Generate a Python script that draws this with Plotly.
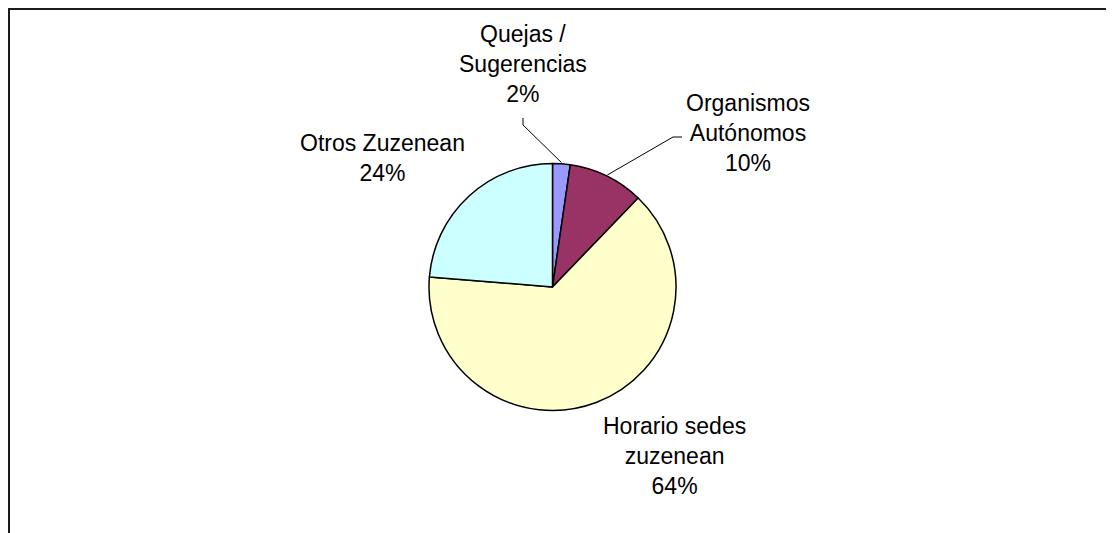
import math
import plotly.graph_objects as go

# ---- data ----
categories = ["Quejas / Sugerencias", "Organismos Autónomos", "Horario sedes zuzenean", "Otros Zuzenean"]
label_lines = ["Quejas /<br>Sugerencias", "Organismos<br>Autónomos", "Horario sedes<br>zuzenean", "Otros Zuzenean"]
values = [2.3, 9.9, 64.1, 23.7]
colors = ["#9999FF", "#993366", "#FFFFCC", "#CCFFFF"]

W, H = 1114, 533
OFF = 8  # page body margin offset
CX, CY, R = 552.5, 287.0, 123.5   # pie centre / radius in page pixels


def px(x):
    return (x - OFF) / W


def py(y):
    return 1 - (y - OFF) / H


fig = go.Figure()
fig.add_trace(go.Pie(
    labels=categories,
    values=values,
    sort=False,
    direction="clockwise",
    rotation=0,
    marker=dict(colors=colors, line=dict(color="#000000", width=1.5)),
    textinfo="none",
    hoverinfo="label+percent",
    showlegend=False,
    domain=dict(x=[px(CX - R), px(CX + R)], y=[py(CY + R), py(CY - R)]),
))

# label positions (page pixel centres of text blocks)
label_pos = [(523, 64), (748, 133), (674, 456), (382, 158)]
total = sum(values)
pct = [round(v / total * 100) for v in values]
for txt, p, (lx, ly) in zip(label_lines, pct, label_pos):
    fig.add_annotation(
        x=px(lx), y=py(ly), xref="paper", yref="paper",
        text=f"{txt}<br>{p}%", showarrow=False,
        font=dict(family="Liberation Sans, Arial, sans-serif", size=23, color="#000000"),
        align="center", xanchor="center", yanchor="middle",
    )

# leader lines (slice end computed from slice mid-angle)
cum = 0
mids = []
for v in values:
    mids.append((cum + v / 2) / total * 360)
    cum += v
leader_starts = {0: [(523, 118), (523, 125)], 1: [(682, 137), (673, 137)]}
for i, pts in leader_starts.items():
    a = math.radians(mids[i])
    ex, ey = CX + 1.01 * R * math.sin(a), CY - 1.01 * R * math.cos(a)
    allp = pts + [(ex, ey)]
    path = "M " + " L ".join(f"{px(x):.5f},{py(y):.5f}" for x, y in allp)
    fig.add_shape(type="path", path=path, xref="paper", yref="paper",
                  line=dict(color="#000000", width=1))

# outer frame
fig.add_shape(type="rect", xref="paper", yref="paper",
              x0=px(9), x1=1.05, y0=-0.05, y1=py(9),
              line=dict(color="#1a1a1a", width=2), fillcolor="rgba(0,0,0,0)")

fig.update_layout(
    width=W, height=H,
    margin=dict(l=0, r=0, t=0, b=0),
    paper_bgcolor="#FFFFFF", plot_bgcolor="#FFFFFF",
)
fig.write_html("out.html")
